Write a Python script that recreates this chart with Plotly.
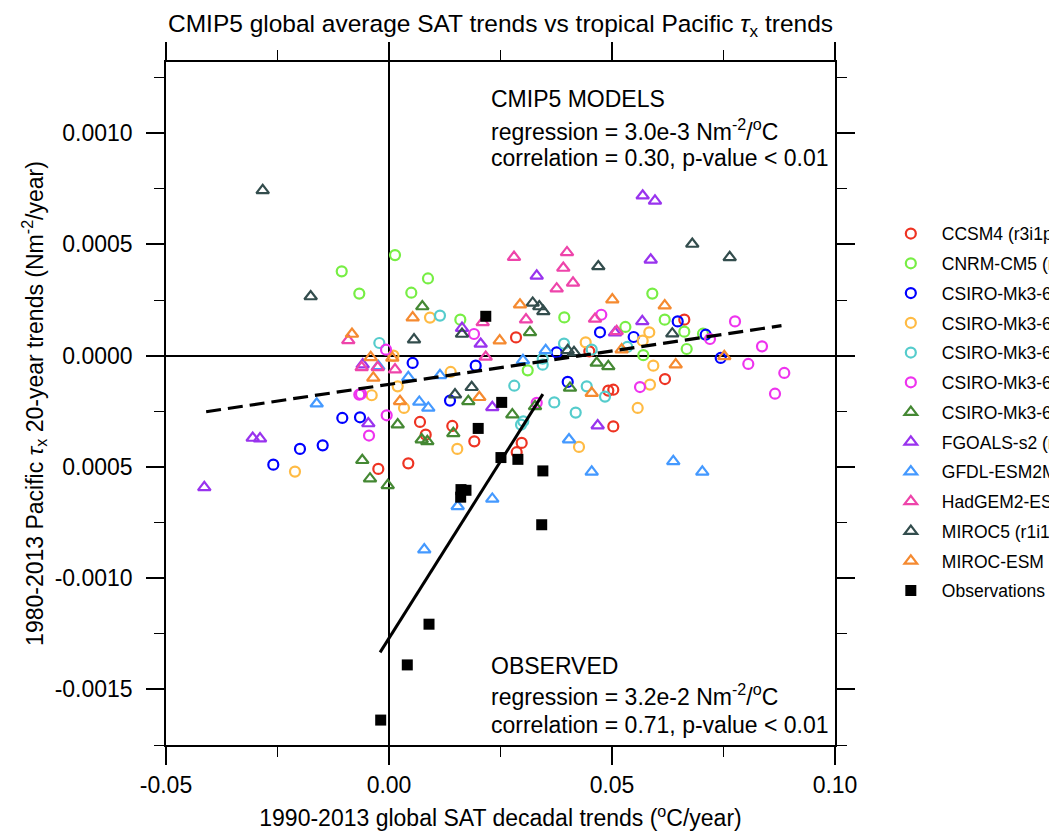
import plotly.graph_objects as go

# ---------------- data ----------------
model_names = [
    "CCSM4 (r3i1p1)", "CNRM-CM5 (r1i1p1)", "CSIRO-Mk3-6-0 (r1i1p1)",
    "CSIRO-Mk3-6-0 (r2i1p1)", "CSIRO-Mk3-6-0 (r3i1p1)", "CSIRO-Mk3-6-0 (r4i1p1)",
    "CSIRO-Mk3-6-0 (r5i1p1)", "FGOALS-s2 (r1i1p1)", "GFDL-ESM2M (r1i1p1)",
    "HadGEM2-ES (r1i1p1)", "MIROC5 (r1i1p1)", "MIROC-ESM (r1i1p1)",
]

ccsm4_x = [0.02848, 0.04491, 0.06621, 0.06188, 0.04917, 0.05029, 0.05029, 0.02975,
           0.02863, 0.00695, 0.01419, 0.00823, 0.01913, 0.00433, -0.0024]
ccsm4_y = [0.0000822, 0.0000193, 0.000162, -0.000105, -0.000157, -0.000153, -0.000318,
           -0.000392, -0.000434, -0.000298, -0.000316, -0.000355, -0.000385, -0.000484, -0.000509]

cnrm_x = [-0.0106, -0.00666, 0.00135, 0.005, 0.00874, 0.01599, 0.0393, 0.053, 0.05904,
          0.06182, 0.06621, 0.05702, 0.06675, 0.0704, 0.0311]
cnrm_y = [0.000379, 0.000279, 0.000452, 0.000283, 0.000347, 0.000162, 0.000172, 0.000129,
          0.000279, 0.000162, 0.000108, 0.0000022, 0.00003, 0.0000988, -0.000066]

csiro1_x = [0.0053, 0.01944, 0.0376, 0.04731, 0.05486, 0.06473, 0.07101, 0.07437, 0.04007,
            0.01368, -0.01047, -0.0065, -0.01996, -0.01487, -0.02594]
csiro1_y = [-0.0000328, -0.0000449, 0.0000148, 0.000105, 0.000084, 0.000154, 0.0000943,
            -0.0000103, -0.000118, -0.000202, -0.00028, -0.000277, -0.000419, -0.000403, -0.00049]

csiro2_x = [0.00919, 0.05688, 0.05836, 0.0441, 0.05926, 0.05852, 0.05576, 0.00195, 0.01383,
            0.00336, 0.01531, 0.0426, -0.00388, -0.02108, 0.001]
csiro2_y = [0.000171, 0.0000674, 0.000105, 0.0000598, -0.0000449, -0.00013, -0.000235,
            -0.000138, -0.0000732, -0.000235, -0.000419, -0.00041, -0.000178, -0.000521, 0.0]

csiro3_x = [-0.00217, 0.01143, 0.03924, 0.04545, 0.05343, 0.03446, 0.03446, 0.02809, 0.03706,
            0.04186, 0.04433, 0.04843, 0.03011, 0.0296]
csiro3_y = [0.000057, 0.00018, 0.0000539, 0.000027, 0.0000391, -0.0000135, -0.0000404,
            -0.000135, -0.00021, -0.000256, -0.000138, -0.000184, -0.000295, -0.00031]

csiro4_x = [-0.00067, 0.01906, 0.0476, 0.07197, 0.07758, 0.08363, 0.08056, 0.08863, 0.08655,
            0.05628, 0.03312, -0.00666, -0.00628, -0.00052, -0.00448]
csiro4_y = [0.000027, 0.0000975, 0.000184, 0.000075, 0.000154, 0.0000418, -0.0000373,
            -0.0000777, -0.000171, -0.000141, -0.000212, -0.000175, -0.000172, -0.000268, -0.000359]

csiro5_x = [0.00747, 0.03161, 0.04657, 0.04917, 0.04058, 0.01778, 0.02765, 0.03274, 0.00733,
            0.00859, 0.01442, 0.00195, -0.00599, -0.00426, -0.00029]
csiro5_y = [0.000221, 0.000105, -0.0000328, -0.000048, -0.000145, -0.000205, -0.000265,
            -0.000228, -0.000377, -0.000385, -0.000349, -0.00031, -0.00047, -0.000553, -0.000583]

fgoals_x = [0.05688, 0.05964, 0.05868, 0.03312, 0.01637, 0.02056, 0.05067, 0.05679, 0.02316,
            0.04679, -0.0059, -0.00464, -0.03056, -0.02892, -0.04141]
fgoals_y = [0.000719, 0.000696, 0.000431, 0.000359, 0.000124, 0.0000526, 0.000103, 0.000154,
            -0.000232, -0.000314, -0.0000404, -0.000305, -0.00037, -0.000373, -0.000592]

gfdl_x = [0.03513, 0.03004, 0.00433, 0.01143, 0.00679, 0.00881, 0.04036, 0.04545, 0.02316,
          0.0154, 0.00791, 0.06374, 0.07025, -0.0024, -0.01621]
gfdl_y = [0.0000238, -0.0000211, -0.0000975, -0.0000885, -0.000208, -0.000235, -0.000377,
          -0.000522, -0.000644, -0.000677, -0.000872, -0.000475, -0.000522, -0.000048, -0.000216]

hadgem_x = [-0.00913, 0.02101, 0.02168, 0.03072, 0.02803, 0.0376, 0.03908, 0.03991, 0.04126,
            0.04619, 0.05105, -0.00612, -0.00253, 0.00135]
hadgem_y = [0.0000687, 0.00015, -0.0000058, 0.000162, 0.000443, 0.000301, 0.000394, 0.000464,
            0.000327, 0.000165, 0.000109, -0.0000526, -0.0000526, -0.0000629]

miroc5_x = [-0.02832, -0.01756, 0.00561, 0.01637, 0.03222, 0.0337, 0.0346, 0.04693, 0.068,
            0.07639, 0.06352, 0.04007, 0.04148, 0.0148, 0.01854]
miroc5_y = [0.000743, 0.000266, 0.0000719, 0.0000975, 0.000237, 0.000221, 0.000199, 0.000401,
            0.000502, 0.000442, 0.0000988, 0.0000238, 0.0000148, -0.000175, -0.000142]

mirocesm_x = [-0.0083, 0.00531, 0.02482, 0.02937, 0.05007, 0.06182, 0.06428, 0.07518, 0.05217,
              0.04545, 0.02025, 0.00247, -0.0041, 0.00074, -0.00352]
mirocesm_y = [0.0000975, 0.000171, 0.0000674, 0.000229, 0.000252, 0.000225, -0.0000404,
              -0.0000031, 0.000027, -0.000168, -0.000187, -0.000205, -0.0000076, -0.0000103, -0.0001]

obs_x = [0.0217, 0.02527, 0.0200, 0.0251, 0.0289, 0.0345, 0.01614, 0.01726, 0.01607, 0.03424,
         0.00897, 0.0041, -0.00186]
obs_y = [0.000177, -0.00021, -0.000327, -0.000458, -0.000466, -0.000518, -0.000602, -0.000605,
         -0.000636, -0.00076, -0.001207, -0.00139, -0.001638]

# regression lines (slope, intercept, x-extent)
models_slope, models_icpt = 0.0030, -0.000129
models_xext = [-0.041, 0.088]
obs_slope, obs_icpt = 0.0318, -0.001270
obs_xext = [-0.002, 0.0345]

x_ticks = [-0.05, 0.0, 0.05, 0.10]
x_ticklabels = ["-0.05", "0.00", "0.05", "0.10"]
y_ticks = [-0.0015, -0.0010, -0.0005, 0.0, 0.0005, 0.0010]
y_ticklabels = ["-0.0015", "-0.0010", "0.0005", "0.0000", "0.0005", "0.0010"]

# ---------------- style ----------------
model_x = [ccsm4_x, cnrm_x, csiro1_x, csiro2_x, csiro3_x, csiro4_x, csiro5_x,
           fgoals_x, gfdl_x, hadgem_x, miroc5_x, mirocesm_x]
model_y = [ccsm4_y, cnrm_y, csiro1_y, csiro2_y, csiro3_y, csiro4_y, csiro5_y,
           fgoals_y, gfdl_y, hadgem_y, miroc5_y, mirocesm_y]
colors = ["#ee3322", "#77ee44", "#0000ff", "#ffbb44", "#55cccc", "#ee33ee",
          "#448833", "#9933ee", "#4499ff", "#ee44aa", "#334d4d", "#f58a30"]
symbols = ["circle-open"] * 6 + ["triangle-up-open"] * 6

FONT = "Liberation Sans, Arial, Helvetica, sans-serif"

fig = go.Figure()

for i, name in enumerate(model_names):
    is_circ = symbols[i].startswith("circle")
    fig.add_trace(go.Scatter(
        x=model_x[i], y=model_y[i], mode="markers", name=name,
        legendgroup=name,
        marker=dict(symbol=symbols[i], size=10 if is_circ else 11,
                    color=colors[i], line=dict(width=2.2, color=colors[i])),
    ))

fig.add_trace(go.Scatter(
    x=obs_x, y=obs_y, mode="markers", name="Observations", legendgroup="obs",
    marker=dict(symbol="square", size=11, color="black"),
))

fig.add_trace(go.Scatter(
    x=models_xext, y=[models_slope * v + models_icpt for v in models_xext],
    mode="lines", showlegend=False,
    line=dict(color="black", width=3.2, dash="15px,7px"),
))
fig.add_trace(go.Scatter(
    x=obs_xext, y=[obs_slope * v + obs_icpt for v in obs_xext],
    mode="lines", showlegend=False,
    line=dict(color="black", width=3),
))

ann_font = dict(family=FONT, size=23, color="black")
texts = [
    ("CMIP5 MODELS", 0.946),
    ("regression = 3.0e-3 Nm<sup>-2</sup>/<sup>o</sup>C", 0.900),
    ("correlation = 0.30, p-value < 0.01", 0.859),
    ("OBSERVED", 0.1157),
    ("regression = 3.2e-2 Nm<sup>-2</sup>/<sup>o</sup>C", 0.0732),
    ("correlation = 0.71, p-value < 0.01", 0.0293),
]
annotations = [dict(text=t, x=0.483, y=yy, xref="paper", yref="paper",
                    xanchor="left", yanchor="middle", showarrow=False, font=ann_font)
               for t, yy in texts]

fig.update_layout(
    width=1049, height=839,
    paper_bgcolor="white", plot_bgcolor="white",
    margin=dict(l=166, r=214, t=62, b=94, autoexpand=False),
    font=dict(family=FONT, color="black"),
    title=dict(text="CMIP5 global average SAT trends vs tropical Pacific <i>τ</i><sub>x</sub> trends",
               x=0.5, xref="paper", xanchor="center", y=0.972, yanchor="middle",
               font=dict(family=FONT, size=24.5, color="black")),
    showlegend=True,
    legend=dict(x=1.067, xanchor="left", y=0.775, yanchor="top",
                font=dict(family=FONT, size=17.5, color="black"),
                bgcolor="rgba(0,0,0,0)", tracegroupgap=4, itemwidth=52),
    annotations=annotations,
)

fig.update_xaxes(
    range=[-0.05, 0.10], tickmode="array", tickvals=x_ticks, ticktext=x_ticklabels,
    showgrid=False, zeroline=True, zerolinecolor="black", zerolinewidth=2,
    showline=True, linecolor="black", linewidth=1.5, mirror="ticks",
    ticks="outside", ticklen=18, tickwidth=1.5, tickcolor="black", ticklabelstandoff=1,
    minor=dict(dtick=0.025, tick0=0, ticks="outside", ticklen=10, tickwidth=1.2, tickcolor="black"),
    tickfont=dict(family=FONT, size=23, color="black"),
    title=dict(text="1990-2013 global SAT decadal trends (<sup>o</sup>C/year)",
               font=dict(family=FONT, size=23, color="black"), standoff=13),
)
fig.update_yaxes(
    range=[-0.00175, 0.00132], tickmode="array", tickvals=y_ticks, ticktext=y_ticklabels,
    showgrid=False, zeroline=True, zerolinecolor="black", zerolinewidth=2,
    showline=True, linecolor="black", linewidth=1.5, mirror="ticks",
    ticks="outside", ticklen=18, tickwidth=1.5, tickcolor="black", ticklabelstandoff=9,
    minor=dict(dtick=0.00025, tick0=0, ticks="outside", ticklen=10, tickwidth=1.2, tickcolor="black"),
    tickfont=dict(family=FONT, size=23, color="black"),
    title=dict(text="1980-2013 Pacific <i>τ</i><sub>x</sub> 20-year trends (Nm<sup>-2</sup>/year)",
               font=dict(family=FONT, size=23, color="black"), standoff=5),
)

fig.write_html(
    "out.html",
    config={"displayModeBar": False},
    post_script="document.body.style.margin='0';document.body.style.overflow='hidden';",
)
